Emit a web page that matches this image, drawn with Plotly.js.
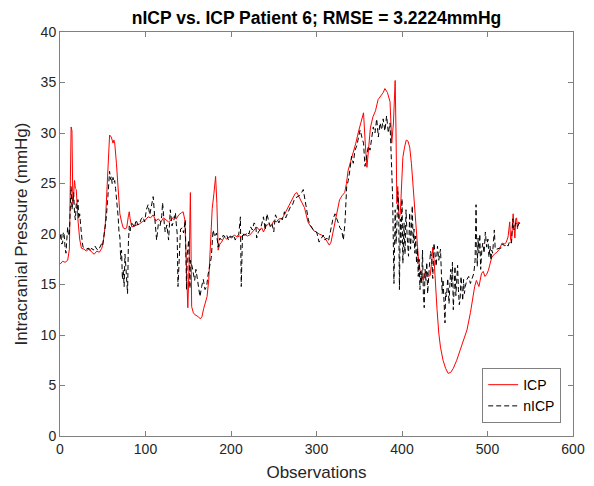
<!DOCTYPE html>
<html>
<head>
<meta charset="utf-8">
<script src="https://cdn.plot.ly/plotly-3.0.1.min.js"></script>
<style>html,body{margin:0;padding:0;background:#fff;}#chart{width:594px;height:486px;}</style>
</head>
<body>
<div id="chart"></div>
<script>
const chartTitle = "nICP vs. ICP Patient 6; RMSE = 3.2224mmHg";
const xLabel = "Observations";
const yLabel = "Intracranial Pressure (mmHg)";
const xTicks = [0, 100, 200, 300, 400, 500, 600];
const yTicks = [0, 5, 10, 15, 20, 25, 30, 35, 40];

const icpObs = [0,3,6,9,11,12,13,14,15,16,17,18,19,21,23,25,28,31,34,37,40,43,46,49,51,53,55,57,58,60,62,63,64,66,68,70,72,74,76,78,80,81,82,84,87,90,93,96,100,103,106,109,112,115,118,121,124,127,130,133,136,139,142,144,146,148,149.5,151,152.5,154,156,158,160,162,164,166,168,170,172,174,176,178,180,182,183.5,185,187,189,192,195,198,201,204,207,210,213,216,219,222,225,228,230,233,236,238,241,244,247,250,253,256,259,261,264,267,270,273,275,277,279,281,284,286,288,290,292,294,297,300,303,306,309,312,315,317,320,323,325,327,330,333,335,337,340,343,346,349,351,353,355,357,359,361,363,366,369,372,375,378,380,383,386,388,390,392,393,394,395,396.5,398,399.5,401,403,405,407,409,411,413,415,417,419,421,423,425,427,429,431,433,435,436,437.5,439,441,443,445,448,451,454,457,460,464,468,472,476,480,483,485,487,490,493,495,497,499,501,503,505,508,511,514,517,520,522,524,526,527,528,530,531,532,533,534,535,536,538];
const icp = [17.0,17.3,17.2,17.4,18.5,28,30.6,30.2,23,24,25.3,24.5,24.4,21.4,19.5,18.6,18.5,18.3,18.6,18.2,18.0,18.3,18.2,18.6,19.5,21,24.5,28.5,29.8,29.6,29.0,29.3,29.0,27,24,22,21.2,20.6,20.5,20.6,21.8,22.2,21.5,20.7,20.8,20.9,21.0,21.2,21.4,21.7,21.6,21.9,21.3,21.5,21.2,21.6,21.4,21.2,21.4,21.7,21.5,21.9,22.1,22.2,21.4,17.4,12.7,17,24.1,12.8,12.2,12.0,11.9,11.8,11.6,11.8,12.6,13.3,13.8,15.5,19,22.5,24,25.7,23,18.4,19.0,19.2,19.7,19.5,19.7,19.6,19.9,19.7,19.8,19.7,20.0,19.8,19.9,20.2,20.4,20.7,20.4,20.6,20.2,20.8,21.0,20.8,21.3,21.2,21.5,21.5,21.7,22.2,22.7,23.2,23.7,24.0,24.1,23.8,23.4,23.0,22.6,21.9,21.2,20.9,20.6,20.3,20.2,20.0,19.9,19.7,19.3,18.9,19.2,20.4,21.7,22.4,23.4,23.8,24.1,25.0,26.3,27.2,28.0,29.0,30.1,30.8,31.4,32.0,29,26.6,28.5,30.5,31.6,32.2,33.3,33.6,34.0,34.4,34.0,33.1,29.0,31,35.2,30,23,24.7,21.5,22,25,27.6,28.6,29.3,29.2,28.6,27,24.7,22,19.7,17.8,16.4,15.8,15.4,16.2,16.3,15.8,15.9,17.5,18.7,17.5,15.1,12.5,10.2,8.8,7.5,6.7,6.2,6.3,6.7,7.5,8.5,9.5,10.5,12.2,13.8,14.8,15.4,14.8,16.1,16.3,15.8,16.0,16.4,17.0,17.7,18.0,18.2,18.5,19.1,19.0,19.2,19.7,21.2,19.5,19.1,22.0,20,19.6,21.5,21.6,20.5,21.2,21.0];

const nicpObs = [0,1,2,3,4,5,6,7,8,9,10,11,12,13,14,15,16,17,18,19,20,21,22,23,24,25,26,27,29,31,33,35,37,39,41,43,45,47,49,50,52,54,56,57,58,59,60,61,62,63,64,65,66,67,68,69,70,71,72,73,74,75,76,77,78,79,80,81,82,83,85,87,89,91,93,95,97,99,101,103,105,107,109,111,113,115,117,119,120,122,123,125,127,129,131,133,135,136,137,138,139.5,141,143,144.5,146.5,148,149,150.5,152,152.5,154.5,156,157.5,159,160.5,161.8,163.7,165.7,167.6,169.6,171.5,173,174.7,177,179,181,183,185,187,189,191,193,195,197,199,201,203,205,207,209,211,212,213.5,215,217,219,221,223,225,227,229,230,232,234,236,238,240,242,244,246,248,250,252,254,256,258,260,262.5,264,266,268,270,272,274,276,278,280,282,284.5,286.5,288.5,290.5,292.5,294.5,296.5,298.5,300.5,303,306,308,310,312,314,317,319,321.6,323.6,325.5,327.5,329.4,331.4,333.3,335.3,337.2,339,341,343,345,347,349,351,353,355,356.7,358.7,360.6,362.6,364.5,366.4,368.4,370.4,372.3,374.3,376.2,378,380,382,384,386,388,389,390.6,392,393,394,395,396,397,398,398.7,400,401,402.4,403.5,404.7,406,407.6,409,410,411,412,413,414,415,416,417,418,419,420,421,422,423,424,425,426,427,428,429,430,432,433.5,435,436,437.4,438.5,440,441.5,443,445,446,447,448,449,450.3,451,452,453.5,455,456,457,458,459,460,461,462,463,464,465,466,467,468,469,470,471,472,473,474,476,478,480,482,484,485.5,486.6,487.5,488,489,490,491,492,493.5,494.6,496,497.5,499,500.5,501.7,503,504,505,506,507,508,509,511,514,516,518,520,522,524,526,528,529.5,531,533,535,537.7];
const nicp = [19.5,20.1,19.0,19.1,20.2,19.8,18.6,18.1,19.5,20.7,19.8,20.0,22.5,24.7,22.4,23.5,24.1,22.0,21.4,23.0,22.5,23.4,21.5,22.0,20.6,20.1,19.2,18.7,18.6,18.5,18.6,18.3,18.6,18.4,18.8,18.5,18.4,18.8,19.1,18.9,20.1,21.5,23.7,25.5,26.2,25.4,25.7,25.0,25.6,25.1,25.3,24.5,23.7,22.5,21.7,20.2,19.7,17.5,18.4,15.5,16.4,14.8,18.0,16.8,15.0,14.1,19.1,20.8,20.3,21.0,21.0,20.6,21.4,20.9,21.0,21.5,21.7,21.2,22.4,22.9,21.9,22.7,23.7,21.4,19.4,21.0,20.8,21.8,23.1,21.0,20.2,20.9,19.4,22.4,20.8,21.3,22.1,21.0,20.1,14.8,18.7,20.5,20.6,20.1,21.4,14.5,18.1,19.4,14.6,17.4,16.8,16.1,15.4,16.5,15.5,15.1,13.8,14.8,15.5,14.5,14.8,15.9,16.8,17.7,20.4,19.7,20.1,18.7,19.6,19.4,19.9,19.7,19.9,19.4,19.8,19.7,19.9,19.4,19.8,19.9,21.7,14.8,20.1,19.9,19.9,20.2,20.0,20.7,20.4,21.1,20.9,19.6,20.2,20.4,21.0,21.7,20.4,22.0,21.3,20.7,21.0,20.2,21.9,21.4,21.1,21.6,21.4,22.2,21.6,22.0,22.5,22.8,22.9,23.4,23.6,23.7,23.8,24.0,24.4,23.4,22.4,21.4,20.9,20.6,20.4,20.3,20.1,19.2,19.6,19.9,19.4,19.6,19.3,20.8,21.4,22.0,21.4,21.1,20.6,20.4,19.4,21.1,24.7,25.3,26.3,27.7,27.0,28.3,28.7,29.6,30.3,29.6,29.0,26.7,28.0,28.7,28.3,29.6,30.6,30.0,31.4,29.6,31.0,30.3,31.4,30.2,31.7,30.0,31.0,26.3,23.7,15.1,22.4,19.0,20.7,24.2,23.1,14.5,21.5,19.1,23.5,17.1,21.1,18.0,22.4,19.8,17.8,22.1,18.5,20.4,22.8,19.1,20.5,18.1,19.8,17.1,18.6,15.8,17.5,14.5,16.3,15.1,18.4,14.0,12.7,16.5,15.4,17.2,14.1,16.8,18.3,17.4,15.6,19.1,17.8,16.8,18.8,17.4,18.5,16.0,14.1,15.5,12.7,11.2,14.2,13.8,15.6,13.1,15.0,16.5,14.8,17.2,12.5,14.3,16.8,13.9,15.5,16.9,14.5,13.0,13.5,15.8,14.8,13.4,15.5,14.1,14.8,15.5,15.8,15.1,15.6,16.1,17.4,22.9,18.5,16.8,19.6,18.1,20.0,16.5,18.6,19.1,18.1,20.2,18.7,19.5,17.7,18.8,17.4,18.4,18.1,19.0,20.4,18.5,18.5,18.6,18.6,19.0,18.8,19.0,18.8,19.3,19.1,21.5,20.4,21.1,20.7,21.2];

const axisCol = '#808080';
const textCol = '#262626';
const fontFam = 'Liberation Sans, Arial, Helvetica, sans-serif';

const traces = [
  {x: icpObs, y: icp, name: 'ICP', type: 'scatter', mode: 'lines',
   line: {color: 'rgb(255,0,0)', width: 1}},
  {x: nicpObs, y: nicp, name: 'nICP', type: 'scatter', mode: 'lines',
   line: {color: 'rgb(0,0,0)', width: 1, dash: '5px,3px'}}
];

const axisCommon = {
  showgrid: false, zeroline: false, showline: true, linecolor: axisCol, linewidth: 1,
  mirror: 'ticks', ticks: 'inside', ticklen: 5, tickcolor: axisCol, tickwidth: 1,
  tickfont: {family: fontFam, size: 14, color: textCol}
};

const layout = {
  width: 594, height: 486,
  margin: {l: 60, r: 21, t: 32, b: 50},
  paper_bgcolor: '#fff', plot_bgcolor: '#fff',
  font: {family: fontFam, color: textCol},
  title: {text: '<b>' + chartTitle + '</b>', font: {family: fontFam, size: 17.5, color: '#000'},
          x: 0.5, xref: 'paper', xanchor: 'center', y: 1, yref: 'paper', yanchor: 'bottom', pad: {b: 8}},
  xaxis: Object.assign({}, axisCommon, {
    range: [0, 600], tickvals: xTicks, ticktext: xTicks.map(String),
    title: {text: xLabel, font: {family: fontFam, size: 17, color: textCol}, standoff: 10}
  }),
  yaxis: Object.assign({}, axisCommon, {
    range: [0, 40], tickvals: yTicks, ticktext: yTicks.map(String),
    title: {text: yLabel, font: {family: fontFam, size: 17, color: textCol}, standoff: 8}
  }),
  showlegend: true,
  legend: {x: 0.977, y: 0.032, xanchor: 'right', yanchor: 'bottom',
           bgcolor: '#fff', bordercolor: axisCol, borderwidth: 1,
           font: {family: fontFam, size: 14, color: '#000'}, tracegroupgap: 0}
};

Plotly.newPlot('chart', traces, layout, {displayModeBar: false, staticPlot: true});
</script>
</body>
</html>
